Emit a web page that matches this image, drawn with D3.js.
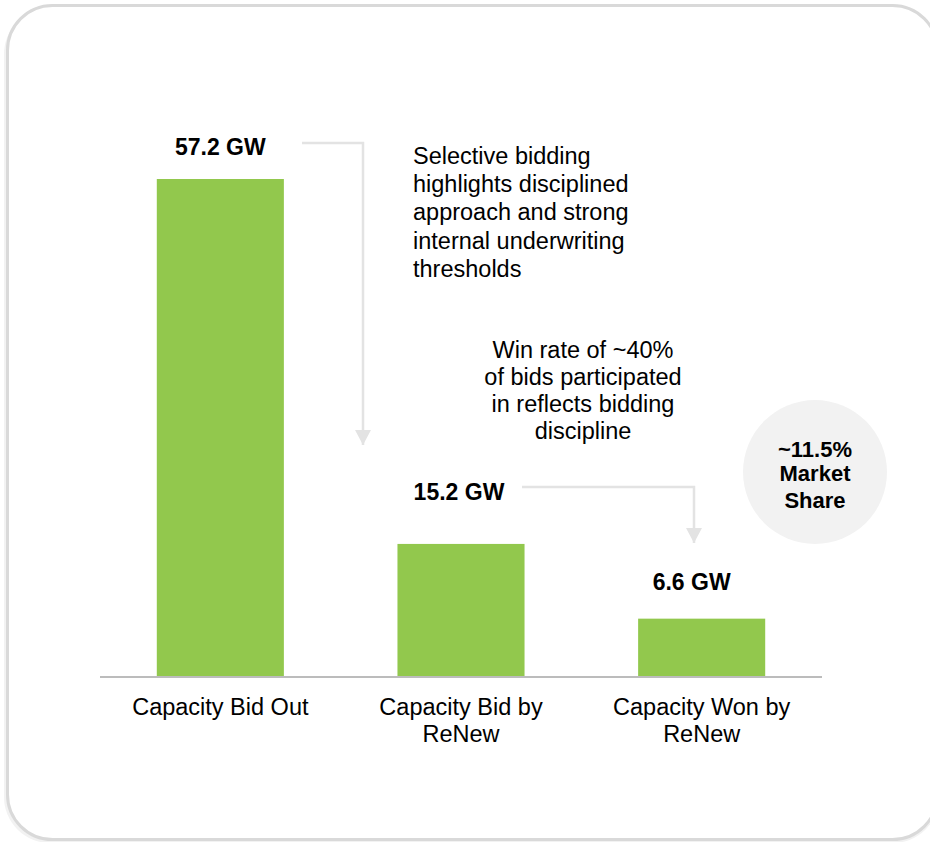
<!DOCTYPE html>
<html lang="en">
<head>
    <meta charset="UTF-8">
    <title>Capacity Bid Out vs Bid / Won by ReNew</title>
    <script src="https://cdnjs.cloudflare.com/ajax/libs/d3/7.8.5/d3.min.js"></script>
    <style>
        body {
            margin: 0;
            background-color: #ffffff;
            font-family: "Liberation Sans", Arial, sans-serif;
        }
        #chart {
            width: 930px;
            height: 842px;
        }
    </style>
</head>
<body>
    <div id="chart"></div>

    <script>
        // chart data
        const categories = [["Capacity Bid Out"], ["Capacity Bid by", "ReNew"], ["Capacity Won by", "ReNew"]];
        const values = [57.2, 15.2, 6.6];
        const valueLabels = ["57.2 GW", "15.2 GW", "6.6 GW"];
        const note1 = ["Selective bidding", "highlights disciplined", "approach and strong", "internal underwriting", "thresholds"];
        const note2 = ["Win rate of ~40%", "of bids participated", "in reflects bidding", "discipline"];
        const badge = ["~11.5%", "Market", "Share"];

        const width = 930, height = 842;
        const green = "#92c84d";
        const arrowGrey = "#e3e3e3";

        const svg = d3.select("#chart")
            .append("svg")
            .attr("width", width)
            .attr("height", height);

        // panel frame
        svg.append("rect")
            .attr("x", 4).attr("y", 8)
            .attr("width", 935).attr("height", 835)
            .attr("rx", 46)
            .attr("fill", "#f2f2f2");
        svg.append("rect")
            .attr("x", 7.5).attr("y", 5.5)
            .attr("width", 930).attr("height", 834)
            .attr("rx", 45)
            .attr("fill", "#ffffff")
            .attr("stroke", "#d9d9d9")
            .attr("stroke-width", 3);

        const x = d3.scaleBand()
            .domain(d3.range(values.length))
            .range([100, 822])
            .paddingInner(0.472)
            .paddingOuter(0.236);

        const y = d3.scaleLinear()
            .domain([0, 57.2])
            .range([676, 179]);

        // bars
        svg.selectAll(".bar")
            .data(values)
            .enter()
            .append("rect")
            .attr("class", "bar")
            .attr("x", (d, i) => x(i))
            .attr("y", d => y(d))
            .attr("width", x.bandwidth())
            .attr("height", d => y(0) - y(d))
            .attr("fill", green);

        // baseline
        svg.append("line")
            .attr("x1", x.range()[0]).attr("x2", x.range()[1])
            .attr("y1", y(0) + 1).attr("y2", y(0) + 1)
            .attr("stroke", "#a6a6a6")
            .attr("stroke-width", 1.5);

        // category labels
        const cat = svg.selectAll(".cat")
            .data(categories)
            .enter()
            .append("text")
            .attr("class", "cat")
            .attr("text-anchor", "middle")
            .attr("font-size", "23.5px")
            .attr("fill", "#000");
        cat.selectAll("tspan")
            .data((d, i) => d.map(t => ({t: t, i: i})))
            .enter()
            .append("tspan")
            .attr("x", d => x(d.i) + x.bandwidth() / 2)
            .attr("y", (d, j) => 715 + j * 27)
            .text(d => d.t);

        // value labels
        const labelOffset = [24, 44, 29];
        svg.selectAll(".val")
            .data(values)
            .enter()
            .append("text")
            .attr("class", "val")
            .attr("text-anchor", "middle")
            .attr("font-size", "23px")
            .attr("font-weight", "bold")
            .attr("x", (d, i) => x(i) + x.bandwidth() / 2 + (i === 2 ? -10 : (i === 1 ? -2 : 0)))
            .attr("y", (d, i) => y(d) - labelOffset[i])
            .text((d, i) => valueLabels[i]);

        // arrows
        function arrow(points) {
            svg.append("path")
                .attr("d", d3.line()(points))
                .attr("fill", "none")
                .attr("stroke", arrowGrey)
                .attr("stroke-width", 2.5);
            const tip = points[points.length - 1];
            svg.append("path")
                .attr("d", `M${tip[0] - 8},${tip[1] - 15}L${tip[0] + 8},${tip[1] - 15}L${tip[0]},${tip[1]}Z`)
                .attr("fill", arrowGrey);
        }
        arrow([[302, 143], [363, 143], [363, 445]]);
        arrow([[522, 487], [694, 487], [694, 543]]);

        // annotations
        svg.append("text")
            .attr("font-size", "23.5px")
            .selectAll("tspan")
            .data(note1)
            .enter()
            .append("tspan")
            .attr("x", 413)
            .attr("y", (d, i) => 164 + i * 28.2)
            .text(d => d);

        svg.append("text")
            .attr("font-size", "23.5px")
            .attr("text-anchor", "middle")
            .selectAll("tspan")
            .data(note2)
            .enter()
            .append("tspan")
            .attr("x", 583)
            .attr("y", (d, i) => 358 + i * 27)
            .text(d => d);

        // market share badge
        svg.append("circle")
            .attr("cx", 815).attr("cy", 472)
            .attr("r", 72)
            .attr("fill", "#f2f2f2");
        svg.append("text")
            .attr("font-size", "22px")
            .attr("font-weight", "bold")
            .attr("text-anchor", "middle")
            .selectAll("tspan")
            .data(badge)
            .enter()
            .append("tspan")
            .attr("x", 815)
            .attr("y", (d, i) => [457, 481, 508][i])
            .text(d => d);
    </script>
</body>
</html>
